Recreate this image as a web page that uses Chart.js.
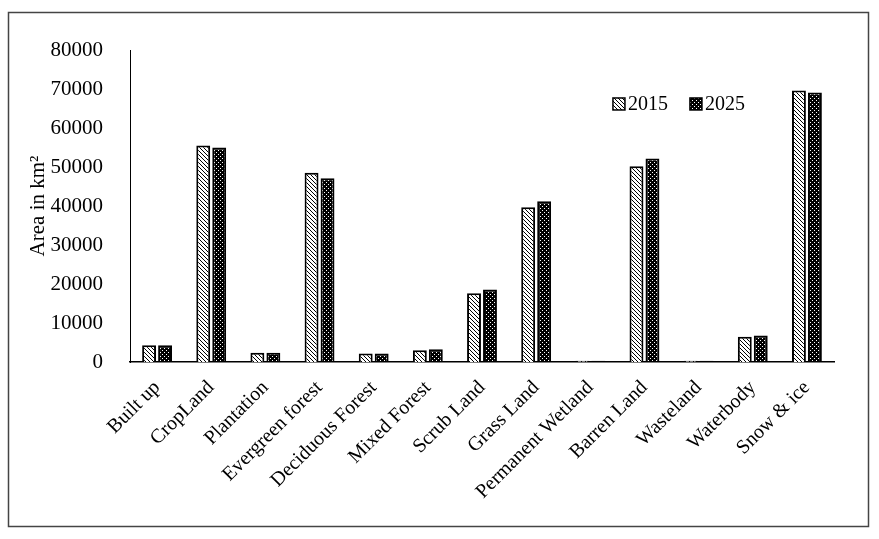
<!DOCTYPE html>
<html>
<head>
<meta charset="utf-8">
<script src="https://cdn.jsdelivr.net/npm/chart.js@4.4.1/dist/chart.umd.min.js"></script>
<style>
html, body { margin: 0; padding: 0; background: #fff; }
#wrap { width: 879px; height: 539px; }
</style>
</head>
<body>
<div id="wrap"><canvas id="chart" width="879" height="539"></canvas></div>
<script>
const categories = ['Built up', 'CropLand', 'Plantation', 'Evergreen forest', 'Deciduous Forest',
  'Mixed Forest', 'Scrub Land', 'Grass Land', 'Permanent Wetland', 'Barren Land',
  'Wasteland', 'Waterbody', 'Snow & ice']
const area2015 = [4300, 55500, 2400, 48500, 2200, 3000, 17600, 39700, 300, 50200, 300, 6500, 69600]
const area2025 = [4300, 55000, 2400, 47100, 2200, 3300, 18600, 41200, 300, 52200, 300, 6800, 69100]
const seriesNames = ['2015', '2025']
const yMax = 80000
const yStep = 10000

const serif = "'Liberation Serif', 'Times New Roman', serif"

// hatch: white with thin black "\" stripes
function stripePattern() {
  const c = document.createElement('canvas')
  c.width = 4; c.height = 4
  const g = c.getContext('2d')
  g.fillStyle = '#fff'
  g.fillRect(0, 0, 4, 4)
  g.fillStyle = '#000'
  for (let i = 0; i < 4; i++) g.fillRect(i, i, 1, 1)
  return g.createPattern(c, 'repeat')
}

// black with white dots
function dotPattern() {
  const c = document.createElement('canvas')
  c.width = 4; c.height = 4
  const g = c.getContext('2d')
  g.fillStyle = '#000'
  g.fillRect(0, 0, 4, 4)
  g.fillStyle = '#fff'
  g.fillRect(0, 0, 1, 1)
  g.fillRect(2, 2, 1, 1)
  return g.createPattern(c, 'repeat')
}

const fills = [stripePattern(), dotPattern()]

const frame = {
  id: 'frame',
  beforeDraw(chart) {
    const ctx = chart.ctx
    ctx.save()
    ctx.fillStyle = '#fff'
    ctx.fillRect(0, 0, chart.width, chart.height)
    ctx.strokeStyle = '#444'
    ctx.lineWidth = 1.5
    ctx.strokeRect(8.5, 12.5, 860, 514)
    ctx.restore()
  }
}

const innerLegend = {
  id: 'innerLegend',
  afterDraw(chart) {
    const ctx = chart.ctx
    const a = chart.chartArea
    let x = a.left + 0.686 * (a.right - a.left)
    const y = a.top + 0.173 * (a.bottom - a.top)
    ctx.save()
    ctx.font = '20px ' + serif
    ctx.textBaseline = 'middle'
    chart.data.datasets.forEach(ds => {
      ctx.fillStyle = ds.backgroundColor
      ctx.fillRect(x, y - 6, 12, 12)
      ctx.strokeStyle = '#000'
      ctx.lineWidth = 1.5
      ctx.strokeRect(x, y - 6, 12, 12)
      ctx.fillStyle = '#000'
      ctx.fillText(ds.label, x + 15, y + 1)
      x += 15 + ctx.measureText(ds.label).width + 22
    })
    ctx.restore()
  }
}

const context = document.getElementById('chart').getContext('2d')

const myChart = new Chart(context, {
  type: 'bar',
  data: {
    labels: categories,
    datasets: [
      { label: seriesNames[0], data: area2015, backgroundColor: fills[0], borderColor: '#000', borderWidth: 2 },
      { label: seriesNames[1], data: area2025, backgroundColor: fills[1], borderColor: '#000', borderWidth: 2 }
    ]
  },
  options: {
    responsive: false,
    animation: false,
    devicePixelRatio: 1,
    categoryPercentage: 0.59,
    barPercentage: 0.87,
    layout: { padding: { left: 10, top: 50, right: 45, bottom: 20 } },
    plugins: {
      legend: { display: false },
      tooltip: { enabled: false }
    },
    scales: {
      x: {
        grid: { display: false },
        border: { display: true, color: '#000', width: 1.5 },
        ticks: {
          color: '#000',
          font: { family: serif, size: 20 },
          minRotation: 45,
          maxRotation: 45,
          padding: 6,
          autoSkip: false
        },
        afterFit(scale) { scale.height = 157 }
      },
      y: {
        min: 0,
        max: yMax,
        grid: { display: false },
        border: { display: true, color: '#000', width: 1 },
        ticks: {
          stepSize: yStep,
          color: '#000',
          padding: 19,
          font: { family: serif, size: 21 },
          callback: v => String(v)
        },
        title: {
          display: true,
          text: 'Area in km²',
          color: '#000',
          font: { family: serif, size: 21 },
          padding: { top: 16, bottom: 0 }
        },
        afterFit(scale) { scale.width = 120 }
      }
    }
  },
  plugins: [frame, innerLegend]
})
</script>
</body>
</html>
